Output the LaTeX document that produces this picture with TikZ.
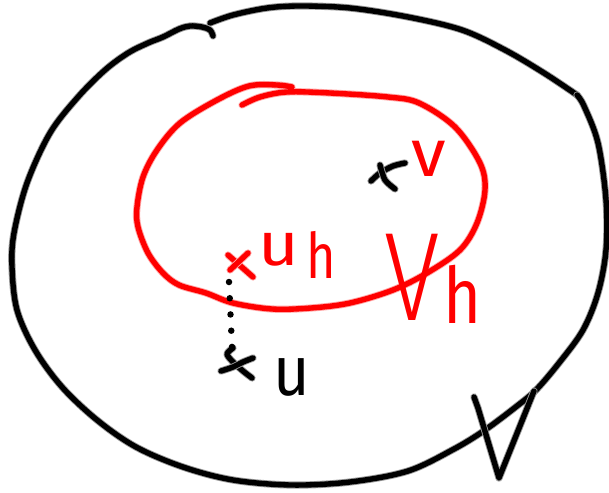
\documentclass[tikz,border=0pt]{standalone}
\usepackage{fontspec}
\setmainfont{Fira Sans}
\newfontfamily\lightf{Fira Sans Light}
\begin{document}
\begin{tikzpicture}[x=1pt,y=-1pt]
\tikzset{
  blk/.style={draw=black, line width=5.4pt, line cap=round, line join=round,
    preaction={draw=black!40, line width=7.2pt, line cap=round, line join=round}},
  rd/.style={draw=red, line width=5.4pt, line cap=round, line join=round,
    preaction={draw=red!35, line width=7.2pt, line cap=round, line join=round}},
  dotline/.style={draw=black, line width=6.5pt, line cap=round, dash pattern=on 0pt off 16.25pt},
  lbl/.style={inner sep=0pt, anchor=base west},
}
\useasboundingbox (0,0) rectangle (609,492);
% outer boundary
\draw[blk] plot[smooth, tension=0.55] coordinates {
 (210,23) (233,15) (267,8) (300,6) (350,8) (408,17) (462,30) (505,50) (544,73) (577,95)};
\draw[blk] plot[smooth, tension=0.55] coordinates {
 (577,95) (584,106) (598,143) (606,200) (606,250) (598,293) (583,330) (559,363) (536,390)
 (517,406) (485,430) (454,449) (408,471) (350,482) (291,485) (233,480) (183,467) (136,447)
 (97,420) (62,387) (35,350) (17,310) (12,267) (14,233) (27,183) (50,133) (78,97) (105,70)
 (128,53) (148,43) (163,37) (179,29) (190,26) (202,27) (210,30) (213,36)};
% bottom-right tip
\draw[blk] (474,397) -- (478,408) -- (499,478) -- (534,391);
% red subset
\draw[rd] plot[smooth, tension=0.55] coordinates {
 (292,87) (277,85) (249,86) (217,100) (180,123) (157,150) (143,177) (137,207) (138,227)
 (148,253) (163,273) (179,285) (206,293) (233,303) (272,309) (311,308) (350,303) (393,290)
 (427,273) (460,250) (477,223) (485,190) (480,163) (455,127) (419,103) (388,97) (330,93)
 (287,92) (260,97) (242,105)};
% point markers
\draw[blk] plot[smooth] coordinates {(371,181) (380,173) (393,166) (405,163)};
\draw[blk] plot[smooth] coordinates {(380,165) (385,180) (395,189)};
\draw[rd] (228,255) -- (253,277);
\draw[rd] (230,270) -- (248,253);
\draw[blk] plot[smooth] coordinates {(233,348) (227,354) (233,362) (243,371) (252,378)};
\draw[blk] plot[smooth] coordinates {(221,371) (233,367) (243,362) (253,358)};
% labels
\node[lbl, red, font=\fontsize{67}{67}\selectfont, xscale=1.05] (lv) at (411,176) {v};
\node[lbl, red, font=\fontsize{61}{61}\selectfont, xscale=1.15] (luh) at (258,265) {u};
\node[lbl, red, font=\fontsize{63}{63}\selectfont, xscale=0.8] (luhs) at (306,278) {h};
\node[lbl, font=\fontsize{70}{70}\selectfont, xscale=0.9] (lu) at (273,395) {u};
\node[lbl, red, font=\lightf\fontsize{70}{70}\selectfont, xscale=1.45, yscale=1.8] (lV) at (384,320) {V};
\node[lbl, red, font=\fontsize{65}{65}\selectfont, yscale=1.2] (lVs) at (443,323) {h};
% dotted connector between the two points
\coordinate (dtop) at (229,282);
\coordinate (dbot) at (232,347);
\draw[dotline] (dtop) -- (dbot);
\end{tikzpicture}
\end{document}
